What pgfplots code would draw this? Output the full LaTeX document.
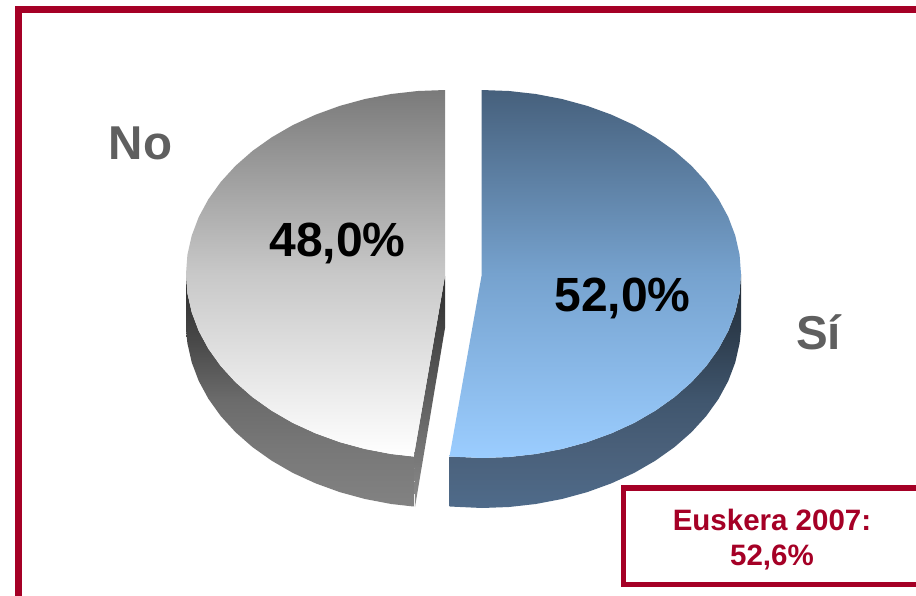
\documentclass[border=0pt]{standalone}
\usepackage{pgfplots}
\pgfplotsset{compat=1.18}
\usepackage{fontspec}
\setmainfont{Liberation Sans}
\definecolor{framered}{HTML}{A50026}
\definecolor{labelgray}{HTML}{5F5F5F}
\pgfdeclareverticalshading{wallNo}{100bp}{
  color(0bp)=(black!49); color(25bp)=(black!49); color(37.4bp)=(black!53); color(48bp)=(black!58);
  color(61bp)=(black!72); color(74bp)=(black!82); color(100bp)=(black!82)}
\definecolor{ws1}{HTML}{4F6B8A}\definecolor{ws2}{HTML}{4A607A}\definecolor{ws3}{HTML}{40566E}
\definecolor{ws4}{HTML}{2F3F50}\definecolor{ws5}{HTML}{222C36}
\pgfdeclareverticalshading{wallSi}{100bp}{
  color(0bp)=(ws1); color(25bp)=(ws1); color(37.4bp)=(ws2); color(48bp)=(ws3);
  color(61bp)=(ws4); color(74bp)=(ws5); color(100bp)=(ws5)}
\begin{document}
\begin{tikzpicture}
\begin{axis}[
  at={(0pt,0pt)}, anchor=south west,
  scale only axis, width=916pt, height=595pt,
  xmin=0, xmax=916, ymin=0, ymax=595, y dir=reverse,
  axis lines=none, ticks=none, clip=true]
% wall: Si
\addplot[draw=none, shade, shading=wallSi]
 coordinates {(741,274)(739.6,293.2)(735.3,312.3)(728.3,330.9)(718.6,348.8)(706.3,366)(691.5,382.2)(674.5,397.1)(655.3,410.7)(634.2,422.9)(611.5,433.3)(587.3,442.1)(562,449)(535.8,454)(509.1,457)(482,458)(449.5,456.5)
 (449.5,506.5)(482,508)(509.1,507)(535.8,504)(562,499)(587.3,492.1)(611.5,483.3)(634.2,472.9)(655.3,460.7)(674.5,447.1)(691.5,432.2)(706.3,416)(718.6,398.8)(728.3,380.9)(735.3,362.3)(739.6,343.2)(741,330)} --cycle;
% wall: No
\addplot[draw=none, shade, shading=wallNo]
 coordinates {(186,274)(187.4,293.2)(191.7,312.3)(198.7,330.9)(208.4,348.8)(220.7,366)(235.5,382.2)(252.5,397.1)(271.7,410.7)(292.8,422.9)(315.5,433.3)(339.7,442.1)(365,449)(391.2,454)(413.5,456.5)
 (413.5,506.5)(391.2,504)(365,499)(339.7,492.1)(315.5,483.3)(292.8,472.9)(271.7,460.7)(252.5,447.1)(235.5,432.2)(220.7,416)(208.4,398.8)(198.7,380.9)(191.7,362.3)(187.4,343.2)(186,330)} --cycle;
% cut face: No
\addplot[draw=none, shade, top color={rgb,255:red,45;green,45;blue,45}, bottom color={rgb,255:red,140;green,140;blue,140}]
 coordinates {(445,276)(445,328)(415,507)(414,456)} --cycle;
% top: Si 52,0
\addplot[draw=none, shade, top color={rgb,255:red,70;green,96;blue,124}, bottom color={rgb,255:red,155;green,205;blue,255}, middle color={rgb,255:red,118;green,162;blue,206}]
 coordinates {(481.5,276)(481.5,90)(509.1,91)(535.8,94)(562,99)(587.3,105.9)(611.5,114.7)(634.2,125.1)(655.3,137.3)(674.5,150.9)(691.5,165.8)(706.3,182)(718.6,199.2)(728.3,217.1)(735.3,235.7)(739.6,254.8)(741,274)(739.6,293.2)(735.3,312.3)(728.3,330.9)(718.6,348.8)(706.3,366)(691.5,382.2)(674.5,397.1)(655.3,410.7)(634.2,422.9)(611.5,433.3)(587.3,442.1)(562,449)(535.8,454)(509.1,457)(482,458)(449.5,456.5)} --cycle;
% top: No 48,0
\addplot[draw=none, shade, top color={rgb,255:red,122;green,122;blue,122}, bottom color=white, middle color={rgb,255:red,200;green,200;blue,200}]
 coordinates {(445,276)(413.5,456.5)(391.2,454)(365,449)(339.7,442.1)(315.5,433.3)(292.8,422.9)(271.7,410.7)(252.5,397.1)(235.5,382.2)(220.7,366)(208.4,348.8)(198.7,330.9)(191.7,312.3)(187.4,293.2)(186,274)(187.4,254.8)(191.7,235.7)(198.7,217.1)(208.4,199.2)(220.7,182)(235.5,165.8)(252.5,150.9)(271.7,137.3)(292.8,125.1)(315.5,114.7)(339.7,105.9)(365,99)(391.2,94)(417.9,91)(445,90)} --cycle;
% frame
\addplot[draw=framered, line width=6.5pt, line cap=butt] coordinates {(18.3,700)(18.3,9.5)(1000,9.5)};
% box
\addplot[draw=framered, fill=white, line width=5.5pt] coordinates {(1000,488)(623.5,488)(623.5,584.5)(1000,584.5)} --cycle;
\node[font=\fontsize{47.5}{50}\selectfont\bfseries, text=labelgray, anchor=center] at (axis cs:140.5,143) {No};
\node[font=\fontsize{47.5}{50}\selectfont\bfseries, text=labelgray, anchor=center] at (axis cs:818.5,332) {Sí};
\node[font=\fontsize{48}{50}\selectfont\bfseries, text=black, anchor=center] at (axis cs:337.5,243.5) {48,0\%};
\node[font=\fontsize{48}{50}\selectfont\bfseries, text=black, anchor=center] at (axis cs:622.5,298.5) {52,0\%};
\node[font=\fontsize{29.5}{30}\selectfont\bfseries, text=framered, anchor=center] at (axis cs:772,520) {Euskera 2007:};
\node[font=\fontsize{29.5}{30}\selectfont\bfseries, text=framered, anchor=center] at (axis cs:772,557) {52,6\%};
\end{axis}
\path (0pt,0pt) rectangle (916pt,595pt);
\end{tikzpicture}
\end{document}
